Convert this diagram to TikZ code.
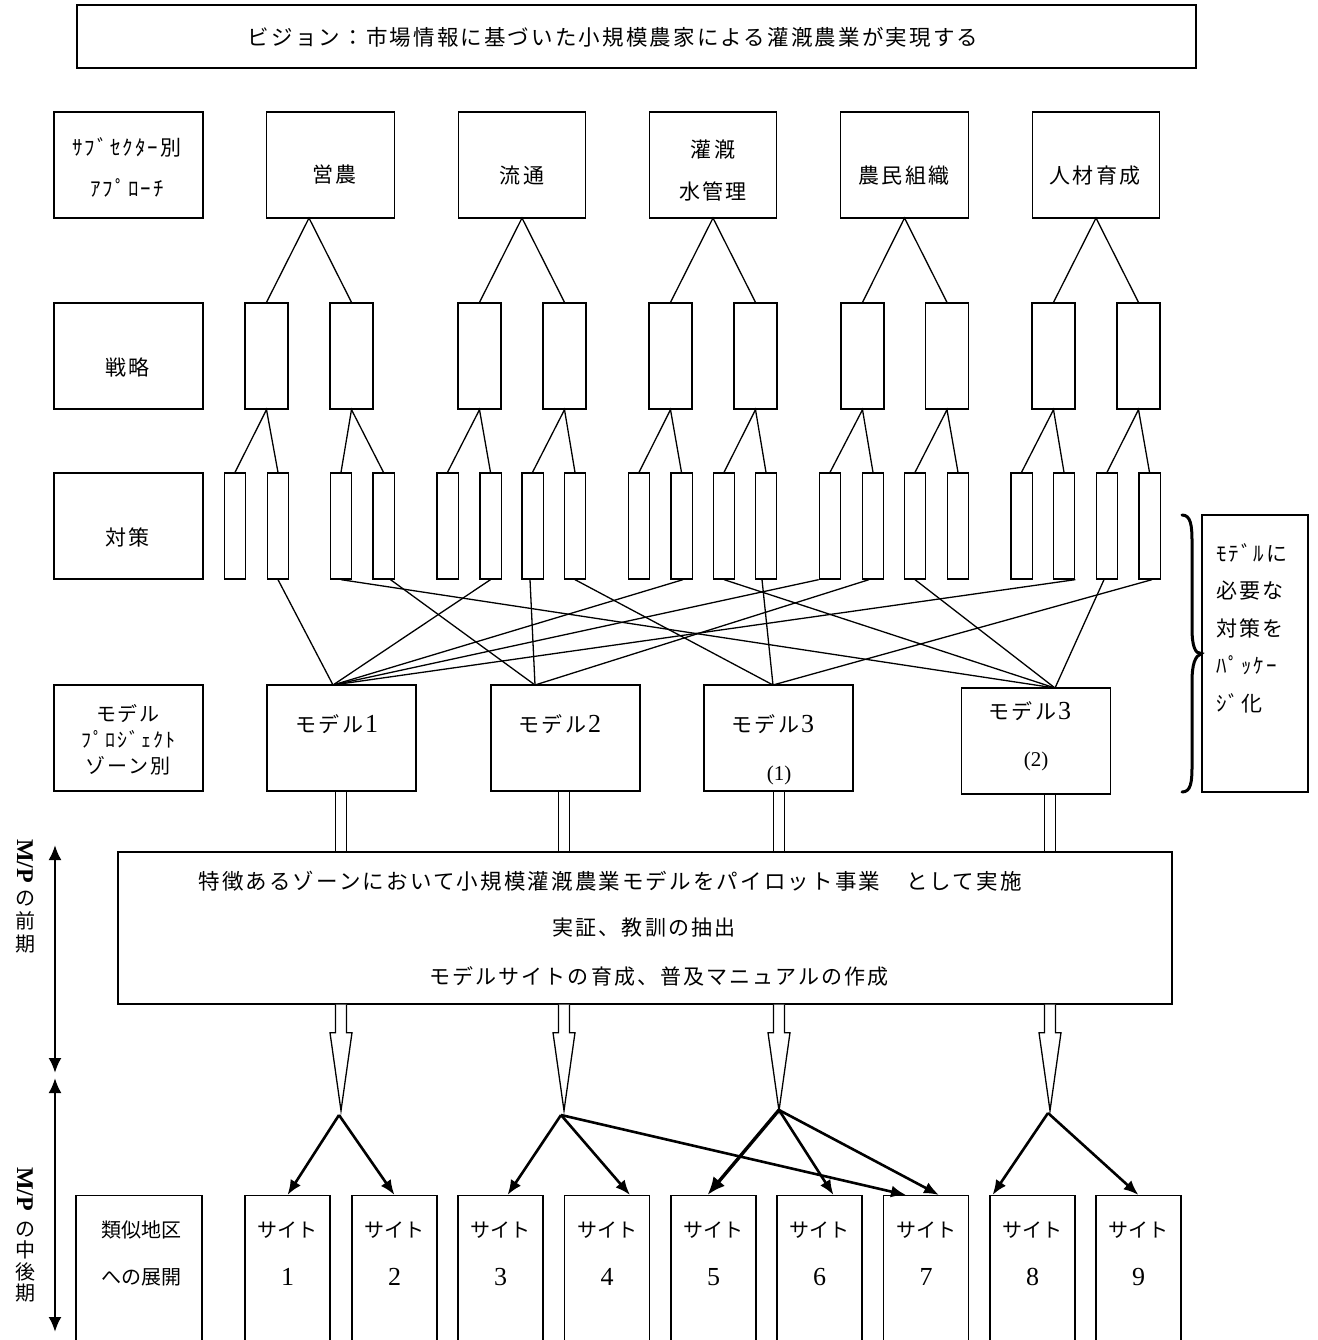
\documentclass[tikz,border=0pt]{standalone}
\usepackage{fontspec}
\newfontfamily\jp[LetterSpace=10]{Noto Sans CJK JP}
\newfontfamily\jpn{Noto Sans CJK JP}
\newfontfamily\serifnum{Liberation Serif}
\usetikzlibrary{arrows.meta,calc}
\newcommand\numfont{\serifnum\fontsize{26}{28}\selectfont}
\begin{document}
\begin{tikzpicture}[x=1pt,y=-1pt,
  bx/.style={draw,line width=1.3pt,fill=white,inner sep=0pt},
  jt/.style={font=\jp\fontsize{21}{25}\selectfont,inner sep=0pt,align=center},
  st/.style={font=\jpn\fontsize{20}{24}\selectfont,inner sep=0pt,align=center},
  ln/.style={line width=1.3pt},
  hbox/.style={bx,minimum width=149pt,minimum height=106pt},
  secbox/.style={bx,minimum width=127.5pt,minimum height=106pt},
  strat/.style={bx,minimum width=43pt,minimum height=106pt},
  meas/.style={bx,minimum width=21.3pt,minimum height=106pt},
  model/.style={bx,minimum width=149pt,minimum height=106pt},
  site/.style={bx,minimum width=85pt,minimum height=160pt,anchor=north},
  fan/.style={line width=2.6pt,-{Latex[length=15pt,width=12pt]}},
  fanbig/.style={line width=3.4pt,-{Latex[length=18pt,width=15pt]}},
  phase/.style={line width=2.4pt,{Latex[length=15pt,width=13pt]}-{Latex[length=15pt,width=13pt]}},
  hollow/.style={line width=1.3pt,fill=white,line join=miter},
  mp/.style={font=\serifnum\bfseries\fontsize{24}{24}\selectfont,rotate=-90,inner sep=0pt},
]
\useasboundingbox (0,0) rectangle (1317,1340);

% vision statement
\node[bx,minimum width=1119pt,minimum height=63pt] (vision) at (636.5,36.5) {};
\node[jt,font=\jp\fontsize{21.5}{25}\selectfont] (visiontxt) at (613,37) {ビジョン：市場情報に基づいた小規模農家による灌漑農業が実現する};

% row headers
\node[hbox] (h1) at (128.5,165) {};
\node[jt,font=\jp\fontsize{21}{41}\selectfont] (h1t) at (127,167.5) {ｻﾌﾞｾｸﾀｰ別\\ｱﾌﾟﾛｰﾁ};
\node[hbox] (h2) at (128.5,356) {};
\node[jt] (h2t) at (127.5,367) {戦略};
\node[hbox] (h3) at (128.5,526) {};
\node[jt] (h3t) at (127.5,537) {対策};
\node[hbox] (h4) at (128.5,738) {};
\node[jt,font=\jp\fontsize{20}{26}\selectfont] (h4t) at (128,740) {モデル\\ﾌﾟﾛｼﾞｪｸﾄ\\ゾーン別};
\node[bx,minimum width=126pt,minimum height=160pt,anchor=north] (h5) at (139,1195) {};
\node[st,font=\jpn\fontsize{20}{47}\selectfont] (h5t) at (141,1253.5) {類似地区\\への展開};

% sub-sectors
\foreach \i/\x in {1/330.5,2/522,3/713,4/904.5,5/1096}
  \node[secbox] (sec\i) at (\x,165) {};
\node[jt] (sec1t) at (334.5,175) {営農};
\node[jt] (sec2t) at (522,175) {流通};
\node[jt,font=\jp\fontsize{21}{42}\selectfont] (sec3t) at (713,170) {灌漑\\水管理};
\node[jt] (sec4t) at (904,176) {農民組織};
\node[jt] (sec5t) at (1095,176) {人材育成};

% strategies
\foreach \i/\x in {1/266.5,2/351.5,3/479.5,4/564.5,5/670.5,6/755.5,7/862.5,8/947,9/1053.5,10/1138.5}
  \node[strat] (s\i) at (\x,356) {};

% measures
\foreach \i/\x in {1/235,2/278,3/341,4/383.5,5/447.5,6/490.5,7/532.5,8/575,9/639,10/681.5,
                   11/724,12/766,13/830,14/873,15/915,16/958,17/1021.5,18/1064,19/1107,20/1149.5}
  \node[meas] (m\i) at (\x,526) {};

% sub-sector -> strategy branches
\coordinate (ap1) at (309,218);
\coordinate (ap2) at (522,218);
\coordinate (ap3) at (713,218);
\coordinate (ap4) at (904.5,218);
\coordinate (ap5) at (1096,218);
\foreach \k in {1,...,5} {
  \pgfmathtruncatemacro\sa{2*\k-1}
  \pgfmathtruncatemacro\sb{2*\k}
  \draw[ln] (s\sa.north) -- (ap\k) -- (s\sb.north);
}

% strategy -> measure branches
\foreach \k in {1,...,10} {
  \pgfmathtruncatemacro\ma{2*\k-1}
  \pgfmathtruncatemacro\mb{2*\k}
  \draw[ln] (m\ma.north) -- (s\k.south) -- (m\mb.north);
}

% model projects
\node[model] (M1) at (341.5,738) {};
\node[model] (M2) at (565.5,738) {};
\node[model] (M3a) at (778.5,738) {};
\node[model] (M3b) at (1036,741) {};
\node[jt] (M1t) at (337,724) {モデル\hspace{2pt}{\numfont 1}};
\node[jt] (M2t) at (560,724) {モデル\hspace{2pt}{\numfont 2}};
\node[jt] (M3at) at (773,724) {モデル\hspace{2pt}{\numfont 3}};
\node[font=\serifnum\fontsize{21}{24}\selectfont] (M3an) at (779,775) {(1)};
\node[jt] (M3bt) at (1030,711) {モデル\hspace{2pt}{\numfont 3}};
\node[font=\serifnum\fontsize{21}{24}\selectfont] (M3bn) at (1036,761) {(2)};

% measures packaged into models
\coordinate (p1) at (333,685);
\coordinate (p2) at (535,685);
\coordinate (p3) at (773,685);
\coordinate (p4) at (1055,688);
\draw[ln] (m2.south) -- (p1);
\draw[ln] (m6.south) -- (p1);
\draw[ln] ([xshift=1.5pt]m10.south) -- (p1);
\draw[ln] (m13.south west) -- (p1);
\draw[ln] (m18.south east) -- (p1);
\draw[ln] ([xshift=7pt]m4.south) -- (p2);
\draw[ln] ([xshift=-2.5pt]m7.south) -- (p2);
\draw[ln] ([xshift=-4pt]m14.south) -- (p2);
\draw[ln] (m8.south) -- (p3);
\draw[ln] ([xshift=-4pt]m12.south) -- (p3);
\draw[ln] ([xshift=2.5pt]m20.south) -- (p3);
\draw[ln] (m3.south) -- (p4);
\draw[ln] (m11.south) -- (p4);
\draw[ln] (m15.south) -- (p4);
\draw[ln] ([xshift=-3pt]m19.south) -- (p4);

% packaging brace and note
\node[bx,minimum width=106pt,minimum height=277pt] (pkg) at (1255,653.5) {};
\node[jt,font=\jp\fontsize{21}{37.5}\selectfont,align=left,anchor=west] (pkgt) at (1216,628)
  {ﾓﾃﾞﾙに\\必要な\\対策を\\ﾊﾟｯｹｰ\\ｼﾞ化};
\coordinate (brtop) at (1182,515);
\coordinate (brbot) at (1182,792);
\draw[line width=3pt,line cap=round] (brtop) .. controls (1191,515) and (1192,526) .. (1192,542)
  -- (1192,628) .. controls (1192,646) and (1195,654) .. (pkg.west)
  .. controls (1195,656) and (1192,664) .. (1192,682)
  -- (1192,766) .. controls (1192,782) and (1191,792) .. (brbot);

% pilot phase box
\node[bx,minimum width=1054pt,minimum height=152pt] (main) at (645,928) {};
\node[jt,font=\jp\fontsize{21.5}{25}\selectfont] (mainl1) at (610,881)
  {特徴あるゾーンにおいて小規模灌漑農業モデルをパイロット事業　として実施};
\node[jt] (mainl2) at (644,928) {実証、教訓の抽出};
\node[jt] (mainl3) at (659,976) {モデルサイトの育成、普及マニュアルの作成};

% double-line links from the models
\coordinate (c1) at (341,791);
\coordinate (c2) at (564,791);
\coordinate (c3) at (779,791);
\coordinate (c4) at (1050,794);
\foreach \i in {1,...,4} {
  \draw[ln] ($(c\i)+(-5.5,0)$) -- ($(c\i |- main.north)+(-5.5,0)$);
  \draw[ln] ($(c\i)+(5.5,0)$) -- ($(c\i |- main.north)+(5.5,0)$);
  \coordinate (hb\i) at (c\i |- main.south);
  \draw[hollow] ($(hb\i)+(-5.5,0)$) -- ++(0,28) -- ++(-5.5,0) -- ++(11,78)
    -- ++(11,-78) -- ++(-5.5,0) -- ++(0,-28);
}

% sites
\foreach \i/\x in {1/287.5,2/394.5,3/500.5,4/607,5/713.5,6/819.5,7/926,8/1032.5,9/1138.5} {
  \node[site] (st\i) at (\x,1195) {};
  \node[st] (stt\i) at (\x,1230) {サイト};
  \node[font=\numfont] (stn\i) at (\x,1277) {\i};
}

% roll-out arrows
\coordinate (g1) at (339,1115);
\coordinate (g2) at (561,1115);
\coordinate (g3) at (779,1110);
\coordinate (g4) at (1048,1113);
\draw[fan] (g1) -- (st1.north);
\draw[fan] (g1) -- (st2.north);
\draw[fan] (g2) -- ([xshift=7pt]st3.north);
\draw[fan] (g2) -- ([xshift=23pt]st4.north);
\draw[fan] (g2) -- ([xshift=-20pt]st7.north);
\draw[fanbig] (g3) -- ([xshift=-6pt]st5.north);
\draw[fan] (g3) -- ([xshift=14pt]st6.north);
\draw[fan] (g3) -- ([xshift=13pt]st7.north);
\draw[fan] (g4) -- ([xshift=-40pt]st8.north);
\draw[fan] (g4) -- (st9.north);

% master-plan phases
\coordinate (ph1a) at (55,845);
\coordinate (ph1b) at (55,1073);
\coordinate (ph2a) at (55,1078);
\coordinate (ph2b) at (55,1332);
\draw[phase] (ph1a) -- (ph1b);
\draw[phase] (ph2a) -- (ph2b);
\node[mp] (mp1) at (25,861) {M/P};
\node[jt,font=\jpn\fontsize{20}{23}\selectfont] (mp1t) at (25,922) {の\\前\\期};
\node[mp] (mp2) at (25,1189) {M/P};
\node[jt,font=\jpn\fontsize{20}{21.5}\selectfont] (mp2t) at (25,1262) {の\\中\\後\\期};
\end{tikzpicture}
\end{document}
